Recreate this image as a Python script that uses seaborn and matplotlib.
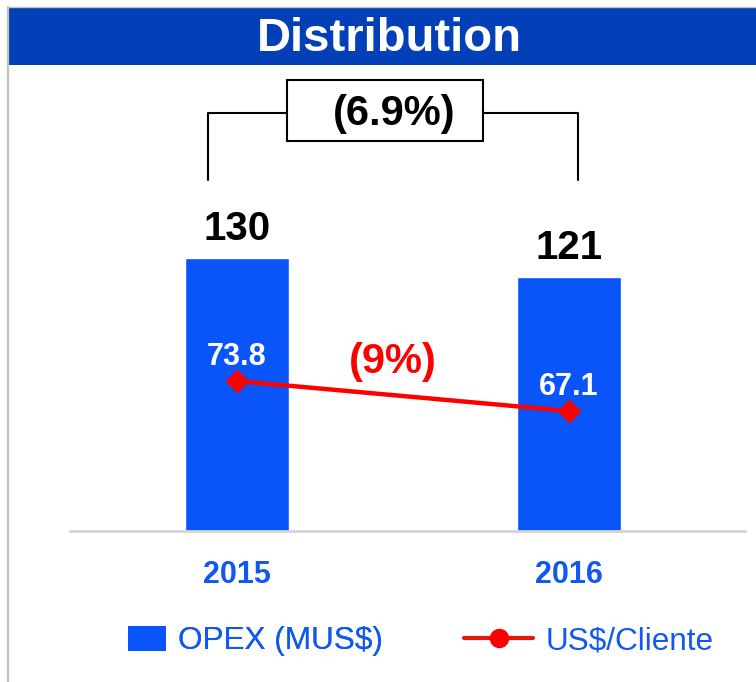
import matplotlib
matplotlib.use("Agg")
import matplotlib.pyplot as plt
import seaborn as sns
import pandas as pd
from matplotlib.patches import Rectangle, Patch
from matplotlib.lines import Line2D

# ---- data ----
years = ["2015", "2016"]
opex = [130, 121]
usd_cliente = [73.8, 67.1]
opex_labels = ["130", "121"]
usd_labels = ["73.8", "67.1"]
title = "Distribution"
total_change = "(6.9%)"
usd_change = "(9%)"
legend_labels = ["OPEX (MUS$)", "US$/Cliente"]

BAR_BLUE = "#0A55FA"
TEXT_BLUE = "#1158F2"
BAND_BLUE = "#0340B8"
RED = "#FF0000"

sns.set_style("white")
plt.rcParams["font.family"] = ["Liberation Sans", "DejaVu Sans"]

fig = plt.figure(figsize=(7.56, 6.82), dpi=100)
W, H = 756, 682

# header band and frame
fig.patches.append(Rectangle((8 / W, 1 - 65 / H), 1 - 8 / W, 57 / H,
                             transform=fig.transFigure, fc=BAND_BLUE, ec="none", zorder=0))
fig.add_artist(Line2D([8 / W, 8 / W], [0, 1 - 7 / H], transform=fig.transFigure,
                      color="#C4C4B4", lw=1.6))
fig.add_artist(Line2D([8 / W, 1], [1 - 7 / H, 1 - 7 / H], transform=fig.transFigure,
                      color="#C4C4B4", lw=1.0))
fig.text(389 / W, 1 - 39 / H, title, color="white", fontsize=34, fontweight="bold",
         ha="center", va="center")

ax = fig.add_axes([70 / W, 1 - 531 / H, 675 / W, 466 / H])
df = pd.DataFrame({"year": years, "opex": opex, "usd": usd_cliente})
sns.barplot(data=df, x="year", y="opex", color=BAR_BLUE, saturation=1, width=0.313, ax=ax)
ax.set_xlim(-0.503, 1.530)
ax.set_ylim(0, 221.9)
for s in ["top", "right", "left"]:
    ax.spines[s].set_visible(False)
ax.spines["bottom"].set_color("#D4D4D4")
ax.spines["bottom"].set_linewidth(2)
ax.set_yticks([])
ax.set_xlabel("")
ax.set_ylabel("")
ax.tick_params(axis="x", length=0, pad=21, labelsize=22, labelcolor=TEXT_BLUE)
for t in ax.get_xticklabels():
    t.set_fontweight("bold")

for i, (v, lab) in enumerate(zip(opex, opex_labels)):
    ax.annotate(lab, (i, v), xytext=(0, 13), textcoords="offset points",
                ha="center", va="baseline", fontsize=29, fontweight="bold", color="black")

# bracket with total change
bk = dict(color="black", lw=1.5, clip_on=False)
ax.plot([-0.087, -0.087, 0.151], [167, 199, 199], **bk)
ax.plot([0.741, 1.027, 1.027], [199, 199, 167], **bk)
ax.add_patch(Rectangle((0.151, 185.7), 0.590, 29.1, fc="white", ec="black", lw=1.5, clip_on=False))
ax.text(0.474, 198.8, total_change, ha="center", va="center", fontsize=30,
        fontweight="bold", color="black")

# secondary axis: US$/Cliente
ax2 = ax.twinx()
sns.pointplot(data=df, x="year", y="usd", color=RED, markers="D", errorbar=None, ax=ax2)
for ln in ax2.lines:
    ln.set_linewidth(3.2)
    ln.set_markersize(10)
    ln.set_color(RED)
for coll in ax2.collections:
    coll.set_sizes([100])
    coll.set_facecolor(RED)
    coll.set_edgecolor(RED)
ax2.set_xlim(-0.503, 1.530)
ax2.set_ylim(40.3, 144.4)
ax2.set_yticks([])
ax2.set_ylabel("")
ax2.set_xlabel("")
for s in ["top", "right", "left", "bottom"]:
    ax2.spines[s].set_visible(False)

for i, (v, lab) in enumerate(zip(usd_cliente, usd_labels)):
    ax2.annotate(lab, (i, v), xytext=(0, 11.5), textcoords="offset points",
                 ha="center", va="baseline", fontsize=22, fontweight="bold", color="white")

ax.text(0.47, 80.5, usd_change, ha="center", va="center", fontsize=30,
        fontweight="bold", color=RED)

# legends
h1 = [Patch(facecolor=BAR_BLUE, edgecolor="none")]
leg1 = fig.legend(h1, [legend_labels[0]], loc="center left", bbox_to_anchor=(128 / W, 0.060),
                  frameon=False, fontsize=22.7, handlelength=1.2, handleheight=0.86,
                  handletextpad=0.38, borderpad=0, borderaxespad=0, labelcolor=TEXT_BLUE)
h2 = [Line2D([0], [0], color="#E3170A", lw=3, marker="o", markersize=13,
             markerfacecolor=RED, markeredgecolor=RED)]
leg2 = fig.legend(h2, [legend_labels[1]], loc="center left", bbox_to_anchor=(464 / W, 0.060),
                  frameon=False, fontsize=22.7, handlelength=2.2, handletextpad=0.38,
                  borderpad=0, borderaxespad=0, labelcolor=TEXT_BLUE, numpoints=1)
fig.add_artist(leg1)

fig.savefig("out.png", dpi=100)
